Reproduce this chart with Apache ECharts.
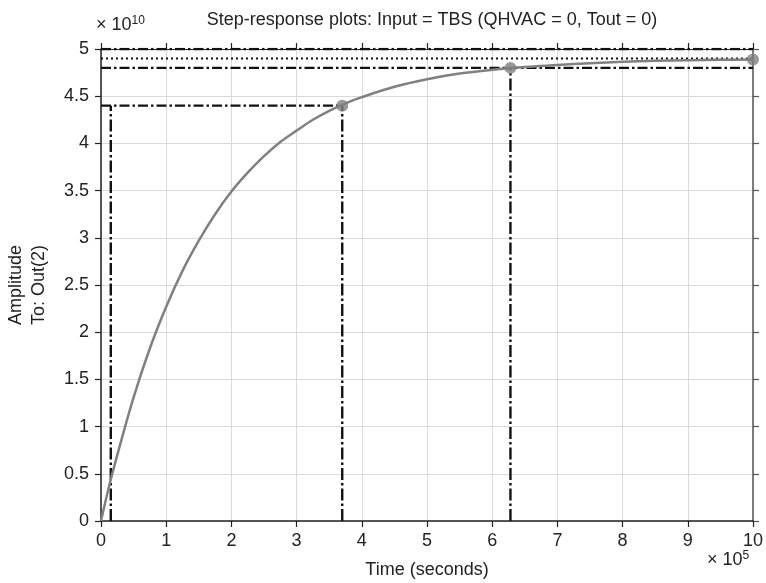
<!DOCTYPE html>
<html>
<head>
<meta charset="utf-8">
<script src="https://cdn.jsdelivr.net/npm/echarts@6/dist/echarts.min.js"></script>
<style>html,body{margin:0;padding:0;background:#fff}#c{width:766px;height:583px}</style>
</head>
<body>
<div id="c"></div>
<script>
// Time in units of 1e5 s, amplitude in units of 1e10
var timeE5 =       [0, 0.125, 0.25, 0.5, 0.75, 1, 1.25, 1.5, 1.75, 2, 2.25, 2.5, 2.75, 3, 3.25, 3.5, 3.75, 4, 4.5, 5, 5.5, 6, 6.5, 7, 7.5, 8, 8.5, 9, 9.5, 10];
var amplitudeE10 = [0, 0.37, 0.70, 1.31, 1.83, 2.27, 2.65, 2.97, 3.25, 3.49, 3.69, 3.865, 4.015, 4.135, 4.25, 4.345, 4.425, 4.49, 4.60, 4.68, 4.74, 4.78, 4.81, 4.83, 4.85, 4.865, 4.875, 4.88, 4.885, 4.89];
var riseTimeStart = 0.15, riseTimeEnd = 3.7, riseLevel = 4.4;
var settleTime = 6.28, settleLower = 4.8, settleUpper = 5.0;
var finalValue = 4.9;
var markerX = [3.7, 6.28, 10];
var markerY = [4.4, 4.8, 4.89];
var xTicks = [0,1,2,3,4,5,6,7,8,9,10];
var yTicks = [0,0.5,1,1.5,2,2.5,3,3.5,4,4.5,5];

var chart = echarts.init(document.getElementById('c'), null, {renderer:'canvas'});
var FONT = 'Liberation Sans, Arial, Helvetica, sans-serif';
var FS = 18;
var dashDot = [10,3,2.5,3];
var vDashDot = [12,3,2.5,3];
var blk = '#111';
function lineSeries(data, type, w){
  return {type:'line', data:data, symbol:'none', silent:true, animation:false,
    lineStyle:{color:blk, width:w||2.4, type:type}, z:3};
}
var curve = timeE5.map(function(t,i){return [t, amplitudeE10[i]];});
var xMin = xTicks[0], xMax = xTicks[xTicks.length-1];
var series = [
  lineSeries([[xMin,settleUpper],[xMax,settleUpper]], dashDot),
  lineSeries([[xMin,finalValue],[xMax,finalValue]], [2,3], 2),
  lineSeries([[xMin,settleLower],[xMax,settleLower]], dashDot),
  lineSeries([[xMin,riseLevel],[riseTimeEnd,riseLevel]], dashDot),
  lineSeries([[riseTimeStart,0],[riseTimeStart,riseLevel]], vDashDot),
  lineSeries([[riseTimeEnd,0],[riseTimeEnd,riseLevel]], vDashDot),
  lineSeries([[settleTime,0],[settleTime,settleLower]], vDashDot),
  {type:'line', data:curve, symbol:'none', smooth:0.35, animation:false,
    lineStyle:{color:'#808080', width:2.5, join:'round'}, z:4},
  {type:'scatter', data:markerX.map(function(x,i){return [x, markerY[i]];}),
    symbol:'circle', symbolSize:12, itemStyle:{color:'#808080'}, z:5, animation:false}
];

chart.setOption({
  backgroundColor:'#fff',
  animation:false,
  grid:{left:101, right:12, top:49, bottom:62, containLabel:false},
  xAxis:[
    {type:'value', min:xMin, max:xMax, interval:1, position:'bottom',
      axisLine:{show:true, onZero:false, lineStyle:{color:'#222', width:1.5}},
      axisTick:{show:true, inside:false, length:6, lineStyle:{color:'#222', width:1.2}},
      axisLabel:{show:true, margin:11, fontSize:FS, color:'#222', fontFamily:FONT},
      splitLine:{show:true, lineStyle:{color:'#d9d9d9', width:1}}},
    {type:'value', min:xMin, max:xMax, interval:1, position:'top',
      axisLine:{show:true, onZero:false, lineStyle:{color:'#222', width:1.2}},
      axisTick:{show:true, inside:false, length:6, lineStyle:{color:'#222', width:1.2}},
      axisLabel:{show:false}, splitLine:{show:false}}
  ],
  yAxis:[
    {type:'value', min:yTicks[0], max:yTicks[yTicks.length-1], interval:0.5, position:'left',
      axisLine:{show:true, onZero:false, lineStyle:{color:'#222', width:1.5}},
      axisTick:{show:true, inside:false, length:6, lineStyle:{color:'#222', width:1.2}},
      axisLabel:{show:true, margin:12, fontSize:FS, color:'#222', fontFamily:FONT},
      splitLine:{show:true, lineStyle:{color:'#d9d9d9', width:1}}},
    {type:'value', min:yTicks[0], max:yTicks[yTicks.length-1], interval:0.5, position:'right',
      axisLine:{show:true, onZero:false, lineStyle:{color:'#555', width:1.5}},
      axisTick:{show:true, inside:false, length:6, lineStyle:{color:'#555', width:1.2}},
      axisLabel:{show:false}, splitLine:{show:false}}
  ],
  title:{text:'Step-response plots: Input = TBS (QHVAC = 0, Tout = 0)', left:427, top:6,
    textAlign:'center', textStyle:{fontSize:FS, fontWeight:'normal', color:'#222', fontFamily:FONT}},
  graphic:[
    {type:'text', x:427, y:570, style:{text:'Time (seconds)', fill:'#222',
      font:FS+'px '+FONT, textAlign:'center', textVerticalAlign:'middle'}},
    {type:'text', x:28, y:285, rotation:Math.PI/2, style:{text:'Amplitude\nTo: Out(2)', fill:'#222', font:FS+'px '+FONT,
      textAlign:'center', textVerticalAlign:'middle', lineHeight:23}},
    {type:'text', x:96, y:15, style:{rich:{b:{fontSize:FS, fontFamily:FONT, fill:'#222'}, s:{fontSize:12, fontFamily:FONT, fill:'#222', padding:[0,0,9,0]}},
      text:'{b|× 10}{s|10}'}},
    {type:'text', x:707, y:550, style:{rich:{b:{fontSize:FS, fontFamily:FONT, fill:'#222'}, s:{fontSize:12, fontFamily:FONT, fill:'#222', padding:[0,0,9,0]}},
      text:'{b|× 10}{s|5}'}}
  ],
  series:series
});
</script>
</body>
</html>
